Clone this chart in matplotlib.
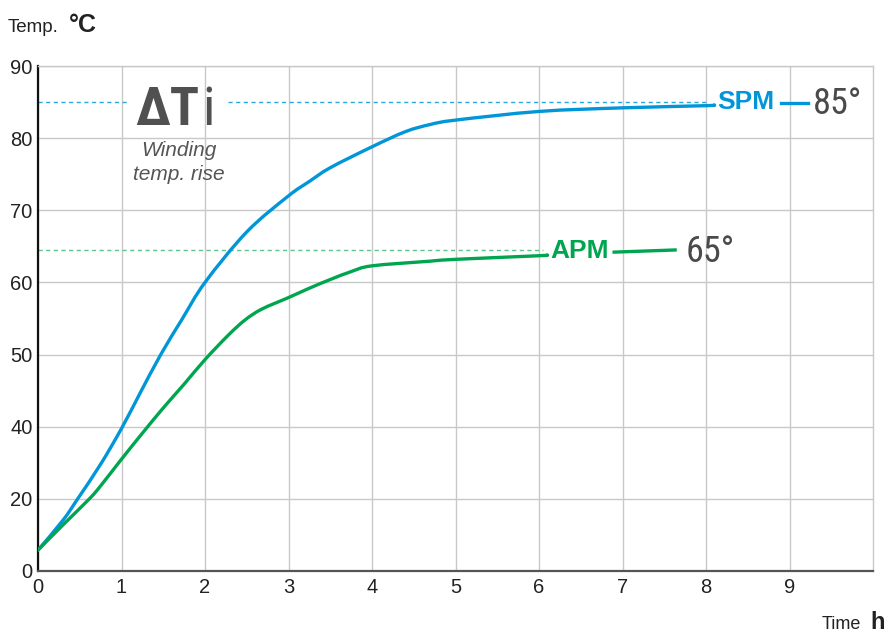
import numpy as np
import matplotlib
matplotlib.use("Agg")
import matplotlib.pyplot as plt
from matplotlib import font_manager
from matplotlib.path import Path
from matplotlib.patches import PathPatch

# ---------------- data ----------------
spm_time = [0, 0.3, 0.475, 0.75, 1, 1.22, 1.47, 1.72, 2, 2.5, 3, 3.25, 3.5, 4, 4.4, 4.7, 5, 6, 7, 8, 8.1]
spm_temp = [5.8, 14.1, 20.0, 29.6, 39.5, 44.6, 50.0, 54.8, 60.0, 67.0, 72.0, 74.0, 75.9, 78.8, 80.9, 81.9, 82.5, 83.7, 84.2, 84.5, 84.6]

apm_time = [0, 0.3, 0.615, 0.75, 1, 1.25, 1.5, 1.75, 2, 2.28, 2.48, 2.68, 3, 3.25, 3.5, 3.75, 4, 4.7, 5, 6, 6.1]
apm_temp = [5.8, 12.8, 20.0, 23.6, 31.0, 38.2, 42.6, 45.9, 49.3, 52.7, 54.8, 56.3, 57.9, 59.2, 60.4, 61.5, 62.3, 62.95, 63.2, 63.7, 63.8]

x_ticks = [0, 1, 2, 3, 4, 5, 6, 7, 8, 9]
y_ticks = [0, 20, 40, 50, 60, 70, 80, 90]

spm_final = 85
apm_final = 65
series_names = ["SPM", "APM"]
final_labels = ["85°", "65°"]

BLUE = "#0096d8"
GREEN = "#00a54f"
GRAY_TXT = "#4a4a4a"

names = {f.name for f in font_manager.fontManager.ttflist}
narrow = [n for n in ["Liberation Sans Narrow", "Roboto Condensed", "Roboto", "DejaVu Sans"] if n in names]
plt.rcParams["font.family"] = ["Liberation Sans", "DejaVu Sans"]

W, H = 889, 633
fig = plt.figure(figsize=(W / 100, H / 100), dpi=100)
L, R, T, B = 38, 873, 66, 571
ax = fig.add_axes([L / W, 1 - B / H, (R - L) / W, (B - T) / H])


def fwd(v):
    v = np.asarray(v, dtype=float)
    return np.where(v <= 40, v / 20.0, 2 + (v - 40) / 10.0)


def inv(p):
    p = np.asarray(p, dtype=float)
    return np.where(p <= 2, p * 20.0, 40 + (p - 2) * 10.0)


ax.set_yscale("function", functions=(fwd, inv))
ax.set_xlim(0, 10)
ax.set_ylim(0, 90)
ax.set_xticks(x_ticks)
ax.set_yticks(y_ticks)
ax.set_xticklabels([str(t) for t in x_ticks])
ax.set_yticklabels([str(t) for t in y_ticks])
ax.tick_params(length=0, labelsize=14.5, colors="#222222", pad=4)
ax.tick_params(axis="x", pad=5)
ax.minorticks_off()
ax.grid(True, color="#c8c8c8", lw=1.0)
ax.set_axisbelow(True)
for s in ["top", "right"]:
    ax.spines[s].set_color("#c8c8c8")
    ax.spines[s].set_linewidth(1.0)
ax.spines["left"].set_color("#111111")
ax.spines["left"].set_linewidth(1.6)
ax.spines["bottom"].set_color("#555555")
ax.spines["bottom"].set_linewidth(1.6)


def smooth_curve(xs, ys, color):
    """Draw a smooth (Catmull-Rom style Bezier) curve through the data points."""
    pts = ax.transData.transform(np.column_stack([xs, ys]))
    n = len(pts)
    verts = [pts[0]]
    codes = [Path.MOVETO]
    for i in range(n - 1):
        p0 = pts[i - 1] if i > 0 else pts[i]
        p1 = pts[i]
        p2 = pts[i + 1]
        p3 = pts[i + 2] if i + 2 < n else pts[i + 1]
        c1 = p1 + (p2 - p0) / 6.0
        c2 = p2 - (p3 - p1) / 6.0
        verts += [c1, c2, p2]
        codes += [Path.CURVE4] * 3
    verts = ax.transData.inverted().transform(np.array(verts))
    patch = PathPatch(Path(verts, codes), fill=False, edgecolor=color, lw=2.4,
                      capstyle="round", joinstyle="round", zorder=5)
    ax.add_patch(patch)


# dashed reference lines
ax.plot([0, 1.08], [spm_final, spm_final], ls=(0, (3, 2.5)), color="#2aa7e0", lw=1.0)
ax.plot([2.28, 8.0], [spm_final, spm_final], ls=(0, (3, 2.5)), color="#2aa7e0", lw=1.0)
ax.plot([0, 6.05], [64.5, 64.5], ls=(0, (3, 2.5)), color="#5cc48c", lw=1.0)

# curves
smooth_curve(spm_time, spm_temp, BLUE)
smooth_curve(apm_time, apm_temp, GREEN)

# label connectors
ax.plot([8.9, 9.22], [84.9, 84.9], color=BLUE, lw=2.4, zorder=5)
ax.plot([6.9, 7.63], [64.2, 64.5], color=GREEN, lw=2.4, zorder=5)

# series labels
ax.text(8.14, 85.0, series_names[0], color=BLUE, fontsize=19, fontweight="bold",
        ha="left", va="center", zorder=6)
ax.text(6.13, 64.4, series_names[1], color=GREEN, fontsize=19, fontweight="bold",
        ha="left", va="center", zorder=6)
ax.text(9.28, 84.7, final_labels[0], color=GRAY_TXT, fontsize=26, family=narrow,
        ha="left", va="center", zorder=6)
ax.text(7.76, 64.2, final_labels[1], color=GRAY_TXT, fontsize=26, family=narrow,
        ha="left", va="center", zorder=6)

# Delta Ti annotation
fig.text(199 / W, 1 - 125 / H, "ΔT", color="#505050", fontsize=39, fontweight="bold",
         family=narrow, ha="right", va="baseline")
fig.text(202 / W, 1 - 125 / H, "i", color="#505050", fontsize=39,
         family=narrow, ha="left", va="baseline")
fig.text(179 / W, 1 - 150 / H, "Winding", color="#555555", fontsize=15, style="italic",
         ha="center", va="center")
fig.text(179 / W, 1 - 175 / H, "temp. rise", color="#555555", fontsize=15, style="italic",
         ha="center", va="center")

# axis titles
fig.text(8 / W, 1 - 32 / H, "Temp.", fontsize=13.5, color="#222222", ha="left", va="baseline")
fig.text(69 / W, 1 - 32 / H, "°C", fontsize=18, fontweight="bold", color="#222222",
         ha="left", va="baseline")
fig.text(822 / W, 1 - 629 / H, "Time", fontsize=13, color="#222222", ha="left", va="baseline")
fig.text(870 / W, 1 - 629 / H, "h", fontsize=17, fontweight="bold", color="#222222",
         ha="left", va="baseline")

fig.savefig("out.png", dpi=100)
